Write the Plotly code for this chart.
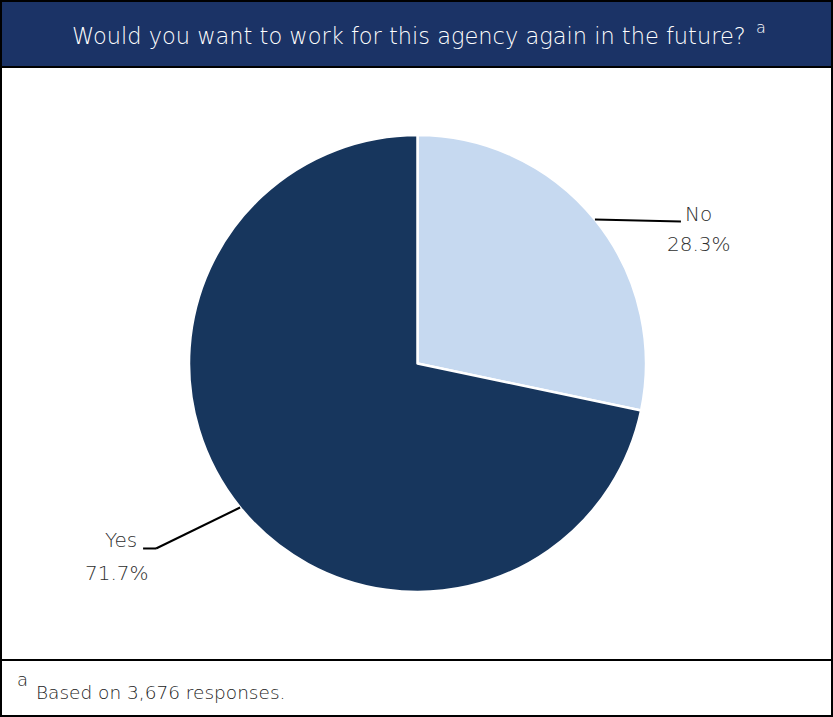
import math
import plotly.graph_objects as go

# Survey responses
labels = ["No", "Yes"]
shares = [28.3, 71.7]
colors = ["#C6D9F0", "#17365D"]
title_text = "Would you want to work for this agency again in the future?"
footnote_mark = "a"
footnote_text = "Based on 3,676 responses."

W, H = 833, 717
FONT = "DejaVu Sans"
THIN = 300
TEXT_GREY = "#2E2E2E"

# Pie placement in pixels
cx, cy, r = 417.5, 363.5, 228.5


def px(x):
    return x / W


def py(y):
    return 1 - y / H


def text(s, x, y, size, color, xanchor="center"):
    return dict(text=s, xref="paper", yref="paper", x=px(x), y=py(y),
                showarrow=False, xanchor=xanchor, yanchor="middle",
                font=dict(family=FONT, size=size, color=color, weight=THIN))


def line(x0, y0, x1, y1, width=2):
    return dict(type="line", xref="paper", yref="paper",
                x0=px(x0), y0=py(y0), x1=px(x1), y1=py(y1),
                line=dict(color="black", width=width))


fig = go.Figure(
    go.Pie(
        labels=labels,
        values=shares,
        sort=False,
        direction="clockwise",
        rotation=0,
        marker=dict(colors=colors, line=dict(color="white", width=2.5)),
        textinfo="none",
        hoverinfo="label+percent",
        showlegend=False,
        domain=dict(x=[px(cx - r), px(cx + r)], y=[py(cy + r), py(cy - r)]),
    )
)

shapes = []
annotations = []

# Outer frame, title band and footnote divider
shapes.append(dict(type="rect", xref="paper", yref="paper",
                   x0=px(1), x1=px(W - 1), y0=py(67), y1=py(1),
                   line=dict(color="black", width=2), fillcolor="#1B3366", layer="below"))
shapes.append(dict(type="rect", xref="paper", yref="paper",
                   x0=px(1), x1=px(W - 1), y0=py(H - 1), y1=py(1),
                   line=dict(color="black", width=2), fillcolor="rgba(0,0,0,0)", layer="above"))
shapes.append(line(1, 660, W - 1, 660))

# Title with footnote marker
annotations.append(text(title_text, 409, 36, 22.5, "white"))
annotations.append(text(footnote_mark, 761, 27, 16, "white"))

# Footnote
annotations.append(text(footnote_mark, 22, 679, 18, "#222222"))
annotations.append(text(footnote_text, 34, 692, 18.5, "#222222", xanchor="left"))

# Leader lines and labels derived from each slice's mid-angle
cum = 0.0
total = sum(shares)
for lab, val in zip(labels, shares):
    mid = (cum + val / 2) / total * 2 * math.pi
    cum += val
    ex = cx + r * math.sin(mid)
    ey = cy - r * math.cos(mid)
    pct = f"{val:.1f}%"
    if math.sin(mid) >= 0:
        kx, ky = ex + 86, ey + 2
        shapes.append(line(ex, ey, kx, ky))
        annotations.append(text(lab, kx + 18, ky - 8, 20, TEXT_GREY))
        annotations.append(text(pct, kx + 18, ky + 22, 20, TEXT_GREY))
    else:
        kx, ky = ex - 84, ey + 41
        shapes.append(line(ex, ey, kx, ky))
        shapes.append(line(kx, ky, kx - 13, ky))
        annotations.append(text(lab, kx - 35, ky - 8, 20, TEXT_GREY))
        annotations.append(text(pct, kx - 39, ky + 25, 20, TEXT_GREY))

fig.update_layout(
    width=W, height=H,
    margin=dict(l=0, r=0, t=0, b=0),
    paper_bgcolor="white",
    plot_bgcolor="white",
    shapes=shapes,
    annotations=annotations,
)

fig.write_html("out.html", config={"displayModeBar": False})
